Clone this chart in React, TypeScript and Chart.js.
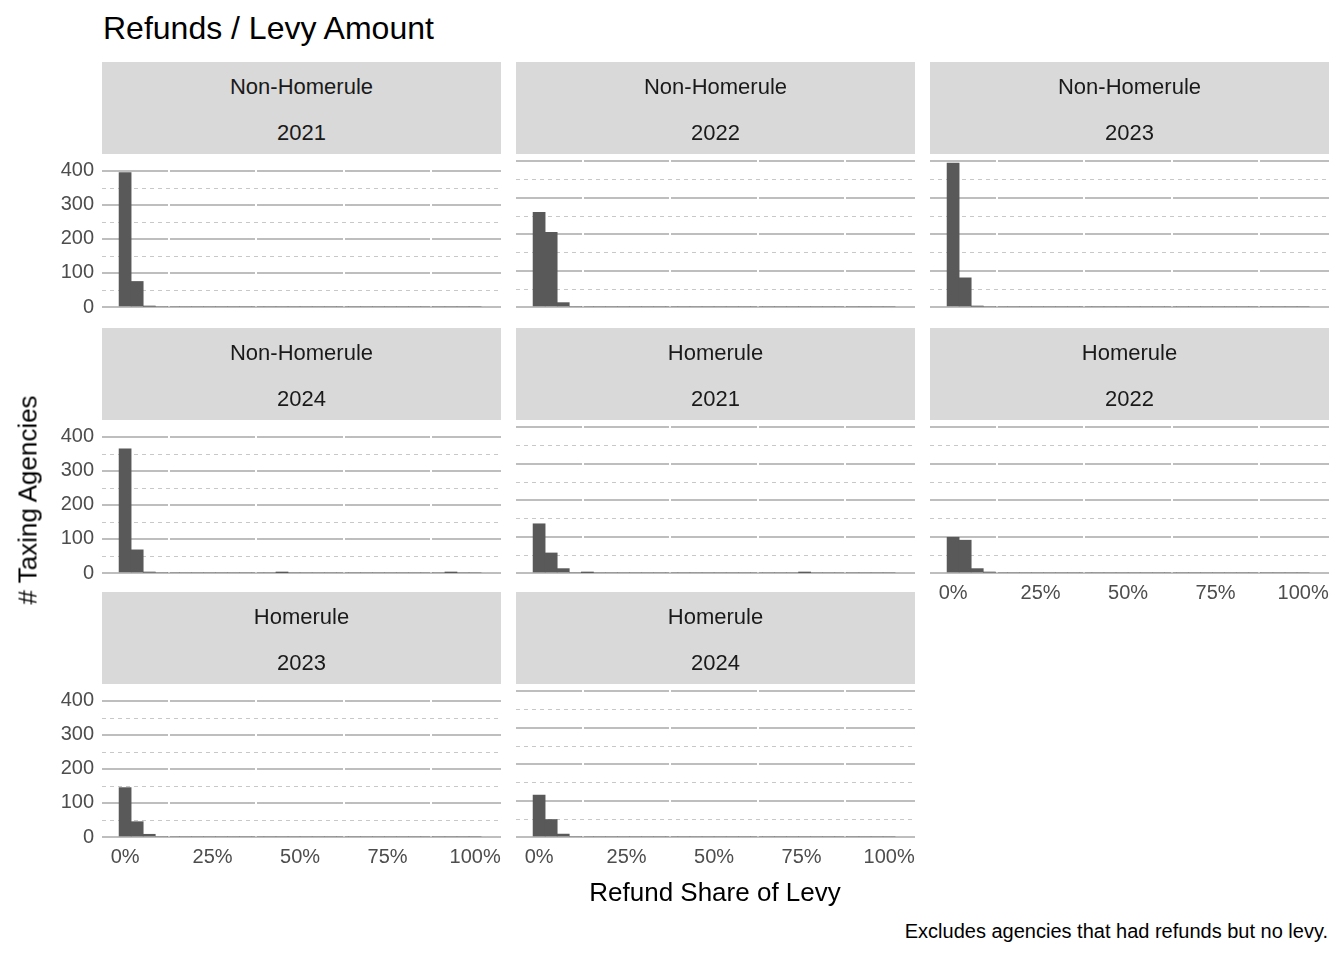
import React, { useEffect, useRef } from "react";
import { Chart, registerables } from "chart.js";
Chart.register(...registerables);

const BIN_WIDTH = 100 / 29;
const binCenters = Array.from({ length: 30 }, (_, k) => k * BIN_WIDTH);
function counts(pairs: [number, number][]) {
  const a = new Array(30).fill(0);
  pairs.forEach(([k, v]) => (a[k] = v));
  return a;
}
const nonHome2021 = counts([[0, 395], [1, 75], [2, 2]]);
const nonHome2022 = counts([[0, 260], [1, 205], [2, 12]]);
const nonHome2023 = counts([[0, 395], [1, 80], [2, 2]]);
const nonHome2024 = counts([[0, 365], [1, 68], [2, 2], [13, 1], [27, 1]]);
const home2021 = counts([[0, 135], [1, 55], [2, 12], [4, 1], [22, 1]]);
const home2022 = counts([[0, 98], [1, 90], [2, 12], [3, 2]]);
const home2023 = counts([[0, 145], [1, 45], [2, 8]]);
const home2024 = counts([[0, 115], [1, 48], [2, 8]]);
const yTicks = [0, 100, 200, 300, 400];
const xTicks = [0, 25, 50, 75, 100];

const panels = [
  { g: "Non-Homerule", yr: "2021", d: nonHome2021, col: 0, row: 0 },
  { g: "Non-Homerule", yr: "2022", d: nonHome2022, col: 1, row: 0 },
  { g: "Non-Homerule", yr: "2023", d: nonHome2023, col: 2, row: 0 },
  { g: "Non-Homerule", yr: "2024", d: nonHome2024, col: 0, row: 1 },
  { g: "Homerule", yr: "2021", d: home2021, col: 1, row: 1 },
  { g: "Homerule", yr: "2022", d: home2022, col: 2, row: 1, bottom: true },
  { g: "Homerule", yr: "2023", d: home2023, col: 0, row: 2, bottom: true },
  { g: "Homerule", yr: "2024", d: home2024, col: 1, row: 2, bottom: true },
];
const colX = [102, 516, 930];
const stripTop = [62, 328, 592];
const PW = 399, SH = 92, PH = 152, PLOT_OFF = 93;
const FONT = "'Liberation Sans', Arial, sans-serif";

const minorPlugin = {
  id: "minor",
  beforeDatasetsDraw(chart: any) {
    const { ctx, chartArea, scales } = chart;
    ctx.save();
    ctx.strokeStyle = "#c8c8c8";
    ctx.lineWidth = 1;
    ctx.setLineDash([4, 4]);
    [50, 150, 250, 350].forEach((v) => {
      const y = Math.round(scales.y.getPixelForValue(v)) + 0.5;
      ctx.beginPath();
      ctx.moveTo(chartArea.left, y);
      ctx.lineTo(chartArea.right, y);
      ctx.stroke();
    });
    ctx.restore();
  },
};

function Panel({ p }: { p: any }) {
  const ref = useRef<HTMLCanvasElement>(null);
  useEffect(() => {
    const showY = p.col === 0;
    const showX = !!p.bottom;
    const chart = new Chart(ref.current!, {
      type: "bar",
      data: {
        datasets: [
          {
            data: binCenters.map((x, i) => ({ x, y: p.d[i] })),
            backgroundColor: "#595959",
            borderWidth: 0,
            barPercentage: 1,
            categoryPercentage: 1,
          },
        ],
      },
      options: {
        animation: false,
        responsive: false,
        layout: { padding: { top: 10, right: 30, left: 0, bottom: 0 } },
        plugins: { legend: { display: false }, tooltip: { enabled: false } },
        scales: {
          y: {
            min: 0,
            max: 417,
            border: { display: false },
            afterBuildTicks: (s: any) => { s.ticks = yTicks.map((v) => ({ value: v })); },
            afterFit: (s: any) => { s.width = 60; },
            grid: { color: "#bebebe", lineWidth: 2, drawTicks: false },
            ticks: {
              display: showY,
              color: "#4d4d4d",
              font: { family: FONT, size: 20 },
              padding: 8,
            },
          },
          x: {
            type: "linear",
            min: -6.6,
            max: 107.4,
            offset: false,
            border: { display: false },
            afterBuildTicks: (s: any) => { s.ticks = xTicks.map((v) => ({ value: v })); },
            afterFit: (s: any) => { s.height = 40; },
            grid: { color: "#ffffff", lineWidth: 2, drawTicks: false },
            ticks: {
              display: showX,
              color: "#4d4d4d",
              font: { family: FONT, size: 20 },
              padding: 8,
              maxRotation: 0,
              callback: (v: any) => v + "%",
            },
          },
        },
      },
      plugins: [minorPlugin],
    } as any);
    return () => chart.destroy();
  }, []);
  const left = colX[p.col];
  const top = stripTop[p.row];
  return (
    <>
      <div
        style={{
          position: "absolute", left, top, width: PW, height: SH, background: "#d9d9d9",
          fontFamily: FONT, fontSize: 22, color: "#1a1a1a", textAlign: "center",
        }}
      >
        <div style={{ position: "absolute", top: 12, width: "100%" }}>{p.g}</div>
        <div style={{ position: "absolute", top: 58, width: "100%" }}>{p.yr}</div>
      </div>
      <canvas
        ref={ref}
        width={489}
        height={202}
        style={{ position: "absolute", left: left - 60, top: top + PLOT_OFF - 10, width: 489, height: 202 }}
      />
    </>
  );
}

export default function App() {
  return (
    <div style={{ position: "absolute", left: 0, top: 0, width: 1344, height: 960, background: "#fff", fontFamily: FONT }}>
      <div style={{ position: "absolute", left: 103, top: 10, fontSize: 32, color: "#000" }}>Refunds / Levy Amount</div>
      {panels.map((p, i) => <Panel key={i} p={p} />)}
      <div
        style={{
          position: "absolute", left: 28, top: 500, fontSize: 26, color: "#000",
          transform: "translate(-50%,-50%) rotate(-90deg)", whiteSpace: "nowrap",
        }}
      >
        # Taxing Agencies
      </div>
      <div style={{ position: "absolute", left: 715, top: 892, fontSize: 26, transform: "translate(-50%,-50%)", whiteSpace: "nowrap" }}>
        Refund Share of Levy
      </div>
      <div style={{ position: "absolute", right: 16, top: 920, fontSize: 20 }}>
        Excludes agencies that had refunds but no levy.
      </div>
    </div>
  );
}
